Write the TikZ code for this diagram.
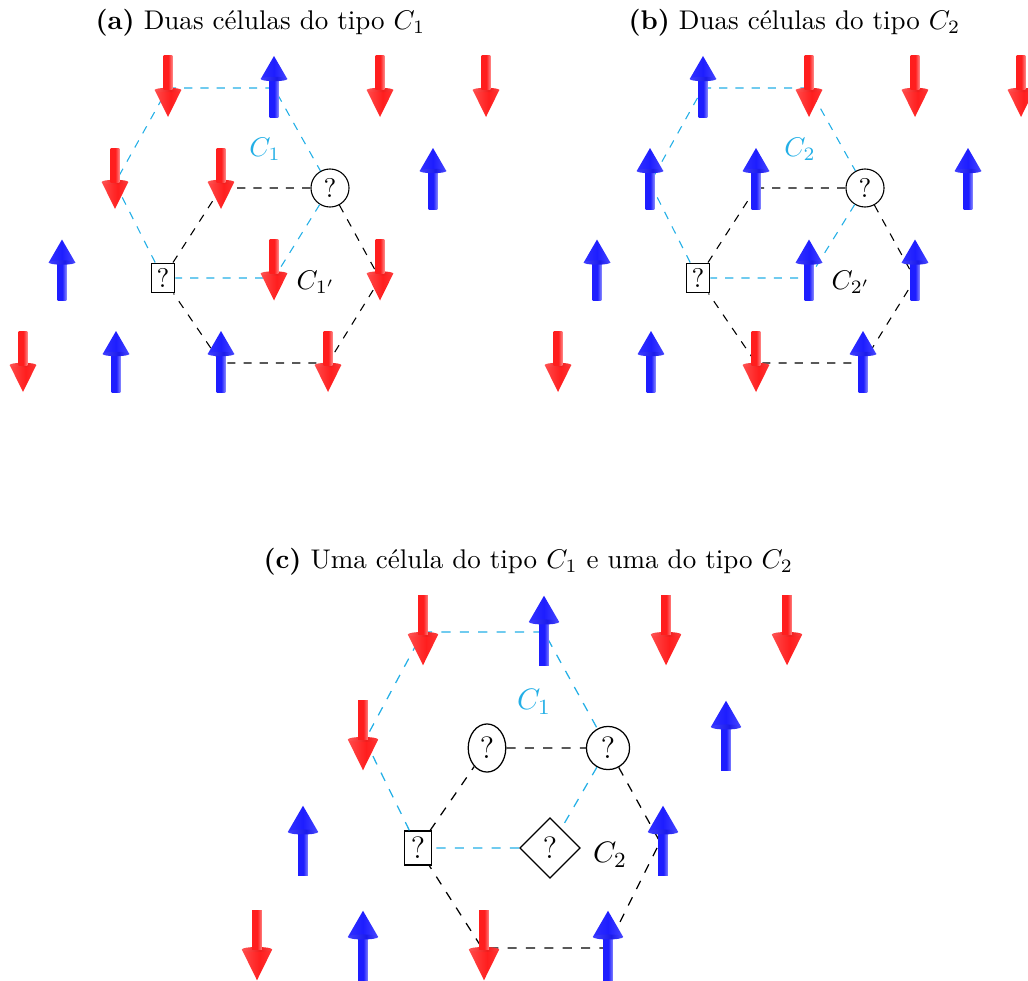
\documentclass[tikz,border=0pt]{standalone}
\usepackage{fontspec}
\usetikzlibrary{shapes.geometric}

\definecolor{spinred}{RGB}{255,30,30}
\definecolor{spinblue}{RGB}{30,30,255}
\definecolor{cellcyan}{RGB}{35,175,230}

% cylinder-like shadings for the spin arrows (25bp..75bp spans the path)
\pgfdeclarehorizontalshading{redrod}{100bp}{color(0bp)=(spinred); color(25bp)=(spinred); color(52bp)=(spinred); color(75bp)=(spinred!55!white); color(100bp)=(spinred!55!white)}
\pgfdeclarehorizontalshading{bluerod}{100bp}{color(0bp)=(spinblue); color(25bp)=(spinblue); color(52bp)=(spinblue); color(75bp)=(spinblue!55!white); color(100bp)=(spinblue!55!white)}
\pgfdeclarehorizontalshading{redcone}{100bp}{color(0bp)=(spinred!80!white); color(25bp)=(spinred!80!white); color(55bp)=(spinred); color(75bp)=(spinred!90!white); color(100bp)=(spinred!90!white)}
\pgfdeclarehorizontalshading{bluecone}{100bp}{color(0bp)=(spinblue!92!white); color(25bp)=(spinblue!92!white); color(50bp)=(spinblue); color(75bp)=(spinblue!82!white); color(100bp)=(spinblue!82!white)}
\pgfdeclarehorizontalshading{redbase}{100bp}{color(0bp)=(spinred!75!white); color(25bp)=(spinred!75!white); color(55bp)=(spinred!95!black); color(75bp)=(spinred!85!white); color(100bp)=(spinred!85!white)}
\pgfdeclarehorizontalshading{bluebase}{100bp}{color(0bp)=(spinblue!85!white); color(25bp)=(spinblue!85!white); color(55bp)=(spinblue!92!black); color(75bp)=(spinblue!80!white); color(100bp)=(spinblue!80!white)}

\tikzset{
  pics/spindown/.style={code={
    \shade[shading=#1cone] (-13.3,3.5) -- (0,30.5) -- (13.3,3.5) -- cycle;
    \shade[shading=#1base] (0,3.5) ellipse [x radius=13.3, y radius=2.2];
    \shade[shading=#1rod] (-4.3,-30.5) rectangle (4.3,3.5);
  }},
  pics/spinup/.style={code={
    \shade[shading=#1rod] (-4.3,-7.5) rectangle (4.3,30.5);
    \shade[shading=#1cone] (-13.3,-7.5) -- (0,-30.5) -- (13.3,-7.5) -- cycle;
    \shade[shading=#1base] (0,-7.5) ellipse [x radius=13.3, y radius=2.2];
  }},
  qmark/.style={draw, inner sep=2pt, line width=0.4pt, font=\fontsize{10}{12}\selectfont},
  qmarkbig/.style={draw, inner sep=2.28pt, line width=0.46pt, font=\fontsize{11.4}{13.7}\selectfont},
  cyanedge/.style={draw=cellcyan, line width=0.4pt, dash pattern=on 3pt off 3pt},
  blackedge/.style={draw=black, line width=0.4pt, dash pattern=on 3pt off 3pt},
  cyanedgebig/.style={draw=cellcyan, line width=0.46pt, dash pattern=on 3.4pt off 3.4pt},
  blackedgebig/.style={draw=black, line width=0.46pt, dash pattern=on 3.4pt off 3.4pt},
  celllabel/.style={inner sep=0pt, font=\fontsize{10}{12}\selectfont},
  celllabelbig/.style={inner sep=0pt, font=\fontsize{11.4}{13.7}\selectfont},
  caption/.style={anchor=base west, inner sep=0pt, font=\fontsize{10}{12}\selectfont},
}

\begin{document}
\begin{tikzpicture}[x=0.37pt, y=-0.37pt]
\useasboundingbox (0,0) rectangle (1028,980);

% ---------- captions ----------
\node[caption] (capa) at (95,29.5) {\textbf{(a)} Duas células do tipo $C_1$};
\node[caption] (capb) at (628,29.5) {\textbf{(b)} Duas células do tipo $C_2$};
\node[caption] (capc) at (263,568.5) {\textbf{(c)} Uma célula do tipo $C_1$ e uma do tipo $C_2$};

% ---------- (a) two cells of type C1 ----------
\node[qmark, circle]    (aO) at (330,188) {?};
\node[qmark, rectangle] (aS) at (163,278) {?};
\coordinate (a1) at (168,88);
\coordinate (a2) at (274,88);
\coordinate (a4) at (274,278);
\coordinate (a6) at (115,183);
\coordinate (ab1) at (221,188);
\coordinate (ab3) at (380,279);
\coordinate (ab4) at (328,363);
\coordinate (ab5) at (221,363);
\draw[cyanedge] (a1) -- (a2) -- (aO) -- (a4) -- (aS) -- (a6) -- (a1);
\draw[blackedge] (ab1) -- (aO) -- (ab3) -- (ab4) -- (ab5) -- (aS) -- (ab1);
\node[celllabel, text=cellcyan] (aL1) at (265,149) {$C_1$};
\node[celllabel] (aL2) at (316,282) {$C_{1'}$};

\pic at (168,86.5) {spindown=red};
\pic at (274,86.5) {spinup=blue};
\pic at (380,86.5) {spindown=red};
\pic at (486,86.5) {spindown=red};
\pic at (115,178.5) {spindown=red};
\pic at (221,178.5) {spindown=red};
\pic at (433,178.5) {spinup=blue};
\pic at (62,270) {spinup=blue};
\pic at (274,270) {spindown=red};
\pic at (380,270) {spindown=red};
\pic at (23,361.5) {spindown=red};
\pic at (116,361.5) {spinup=blue};
\pic at (221,361.5) {spinup=blue};
\pic at (328,361.5) {spindown=red};

% ---------- (b) two cells of type C2 ----------
\node[qmark, circle]    (bO) at (865,188) {?};
\node[qmark, rectangle] (bS) at (698,278) {?};
\coordinate (b1) at (703,88);
\coordinate (b2) at (809,88);
\coordinate (b4) at (809,278);
\coordinate (b6) at (650,183);
\coordinate (bb1) at (756,188);
\coordinate (bb3) at (915,279);
\coordinate (bb4) at (863,363);
\coordinate (bb5) at (756,363);
\draw[cyanedge] (b1) -- (b2) -- (bO) -- (b4) -- (bS) -- (b6) -- (b1);
\draw[blackedge] (bb1) -- (bO) -- (bb3) -- (bb4) -- (bb5) -- (bS) -- (bb1);
\node[celllabel, text=cellcyan] (bL1) at (800,149) {$C_2$};
\node[celllabel] (bL2) at (851,282) {$C_{2'}$};

\pic at (703,86.5) {spinup=blue};
\pic at (809,86.5) {spindown=red};
\pic at (915,86.5) {spindown=red};
\pic at (1021,86.5) {spindown=red};
\pic at (650,178.5) {spinup=blue};
\pic at (756,178.5) {spinup=blue};
\pic at (968,178.5) {spinup=blue};
\pic at (597,270) {spinup=blue};
\pic at (809,270) {spinup=blue};
\pic at (915,270) {spinup=blue};
\pic at (558,361.5) {spindown=red};
\pic at (651,361.5) {spinup=blue};
\pic at (756,361.5) {spindown=red};
\pic at (863,361.5) {spinup=blue};

% ---------- (c) one cell C1 and one cell C2 ----------
\node[qmarkbig, ellipse]   (cE) at (487,748) {?};
\node[qmarkbig, circle]    (cO) at (608,748) {?};
\node[qmarkbig, rectangle] (cS) at (418,848) {?};
\node[qmarkbig, diamond]   (cD) at (550,848) {?};
\coordinate (c1) at (423,632);
\coordinate (c2) at (544,632);
\coordinate (c6) at (365,740);
\coordinate (cb3) at (660,842);
\coordinate (cb4) at (607,948);
\coordinate (cb5) at (482,948);
\draw[cyanedgebig] (c1) -- (c2) -- (cO) -- (cD) -- (cS) -- (c6) -- (c1);
\draw[blackedgebig] (cE) -- (cO) -- (cb3) -- (cb4) -- (cb5) -- (cS) -- (cE);
\node[celllabelbig, text=cellcyan] (cL1) at (534,702) {$C_1$};
\node[celllabelbig] (cL2) at (610,855) {$C_2$};

\pic[scale=1.14] at (423,630.5) {spindown=red};
\pic[scale=1.14] at (544,630.5) {spinup=blue};
\pic[scale=1.14] at (666,630.5) {spindown=red};
\pic[scale=1.14] at (787,630.5) {spindown=red};
\pic[scale=1.14] at (363,735.5) {spindown=red};
\pic[scale=1.14] at (726,735.5) {spinup=blue};
\pic[scale=1.14] at (303,840.5) {spinup=blue};
\pic[scale=1.14] at (663,840.5) {spinup=blue};
\pic[scale=1.14] at (257,945.5) {spindown=red};
\pic[scale=1.14] at (363,945.5) {spinup=blue};
\pic[scale=1.14] at (484,945.5) {spindown=red};
\pic[scale=1.14] at (608,945.5) {spinup=blue};
\end{tikzpicture}
\end{document}
